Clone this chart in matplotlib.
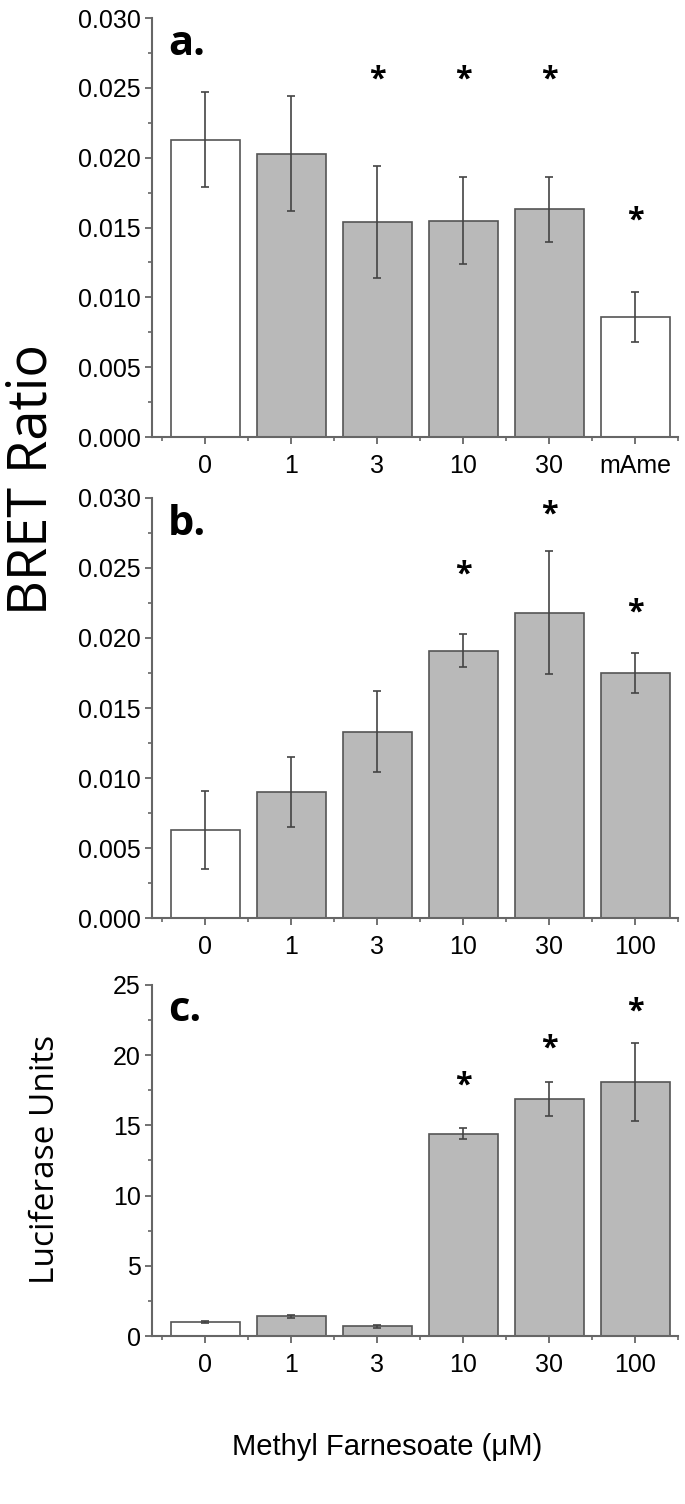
import matplotlib.pyplot as plt
from matplotlib.ticker import MultipleLocator, FixedLocator

# data
labels_a = ['0', '1', '3', '10', '30', 'mAme']
bret_a = [0.0213, 0.0203, 0.0154, 0.0155, 0.0163, 0.0086]
err_a = [0.0034, 0.0041, 0.0040, 0.0031, 0.0023, 0.0018]
star_a = [None, None, 0.0256, 0.0256, 0.0256, 0.0155]
white_a = [True, False, False, False, False, True]

labels_b = ['0', '1', '3', '10', '30', '100']
bret_b = [0.0063, 0.0090, 0.0133, 0.0191, 0.0218, 0.0175]
err_b = [0.0028, 0.0025, 0.0029, 0.0012, 0.0044, 0.0014]
star_b = [None, None, None, 0.0245, 0.0288, 0.0218]
white_b = [True, False, False, False, False, False]

labels_c = ['0', '1', '3', '10', '30', '100']
luc_c = [1.0, 1.4, 0.7, 14.4, 16.9, 18.1]
err_c = [0.05, 0.1, 0.1, 0.4, 1.2, 2.8]
star_c = [None, None, None, 17.8, 20.5, 23.1]
white_c = [True, False, False, False, False, False]

tick_font = ['Liberation Sans', 'DejaVu Sans']
label_font = ['Open Sans', 'DejaVu Sans']
gray = '#b9b9b9'
edge = '#555555'
axcol = '#666666'

fig = plt.figure(figsize=(6.85, 15.04), dpi=100)
ax_a = fig.add_axes([0.222, 0.7094, 0.768, 0.2786])
ax_b = fig.add_axes([0.222, 0.3896, 0.768, 0.2793])
ax_c = fig.add_axes([0.222, 0.1117, 0.768, 0.2334])


def draw_panel(ax, labels, vals, errs, stars, whites, ymax, ystep, letter):
    x = list(range(len(vals)))
    colors = ['white' if w else gray for w in whites]
    ax.bar(x, vals, width=0.8, color=colors, edgecolor=edge, linewidth=1.2, zorder=2)
    ax.errorbar(x, vals, yerr=errs, fmt='none', ecolor='#444444', elinewidth=1.2,
                capsize=3, capthick=1.2, zorder=3)
    for xi, s in zip(x, stars):
        if s is not None:
            ax.text(xi, s, '*', ha='center', va='center', fontsize=22,
                    fontweight='bold', family=label_font)
    ax.set_xlim(-0.62, len(vals) - 0.5)
    ax.set_ylim(0, ymax)
    ax.yaxis.set_major_locator(MultipleLocator(ystep))
    ax.yaxis.set_minor_locator(MultipleLocator(ystep / 2))
    ax.set_xticks(x)
    ax.set_xticklabels(labels)
    ax.xaxis.set_minor_locator(FixedLocator([i + 0.5 for i in range(-1, len(vals))]))
    for sp in ['top', 'right']:
        ax.spines[sp].set_visible(False)
    for sp in ['left', 'bottom']:
        ax.spines[sp].set_color(axcol)
        ax.spines[sp].set_linewidth(1.5)
    ax.tick_params(which='major', direction='out', length=5, width=1.3, color=axcol,
                   labelsize=18, pad=3)
    ax.tick_params(axis='x', which='major', pad=7)
    ax.tick_params(which='minor', direction='out', length=3, width=1.2, color=axcol)
    for t in ax.get_xticklabels() + ax.get_yticklabels():
        t.set_family(tick_font)
    ax.text(0.03, 0.985, letter, transform=ax.transAxes, ha='left', va='top',
            fontsize=30, fontweight='bold', family=label_font)


draw_panel(ax_a, labels_a, bret_a, err_a, star_a, white_a, 0.030, 0.005, 'a.')
draw_panel(ax_b, labels_b, bret_b, err_b, star_b, white_b, 0.030, 0.005, 'b.')
draw_panel(ax_c, labels_c, luc_c, err_c, star_c, white_c, 25, 5, 'c.')

ax_a.set_yticklabels(['%.3f' % v for v in ax_a.get_yticks()])
ax_b.set_yticklabels(['%.3f' % v for v in ax_b.get_yticks()])
for t in ax_a.get_yticklabels() + ax_b.get_yticklabels():
    t.set_family(tick_font)

fig.text(0.047, 0.681, 'BRET Ratio', rotation=90, ha='center', va='center',
         fontsize=39, family=label_font)
fig.text(0.066, 0.229, 'Luciferase Units', rotation=90, ha='center', va='center',
         fontsize=24, family=label_font)
fig.text(0.565, 0.038, 'Methyl Farnesoate (\u03bcM)', ha='center', va='center',
         fontsize=21, family=tick_font)

fig.savefig('out.png', dpi=100)
